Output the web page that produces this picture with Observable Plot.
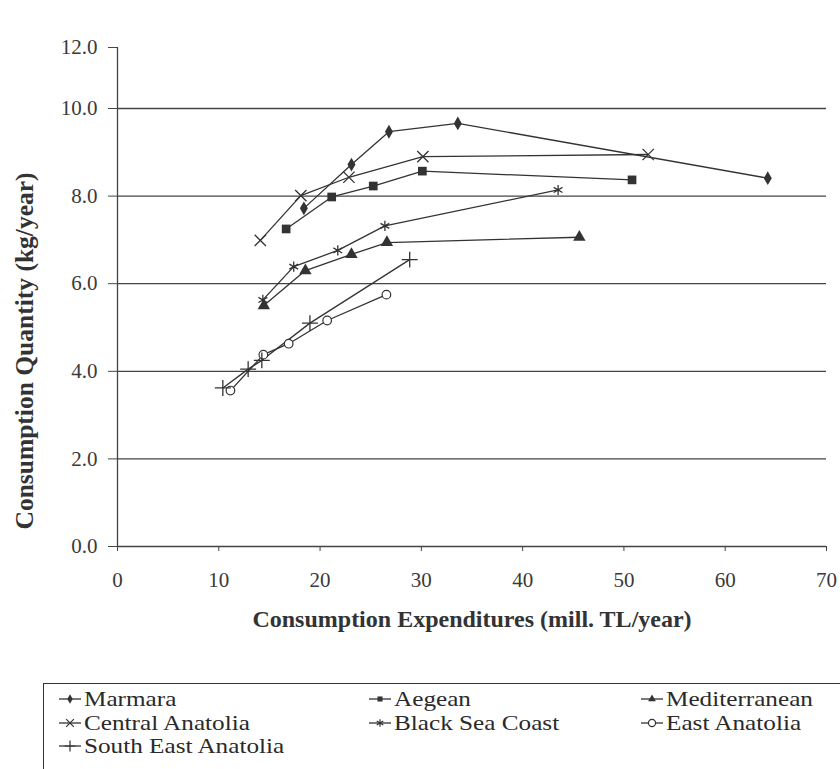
<!DOCTYPE html>
<html>
<head>
<meta charset="utf-8">
<script src="https://cdn.jsdelivr.net/npm/d3@7"></script>
<script src="https://cdn.jsdelivr.net/npm/@observablehq/plot@0.6"></script>
<style>
  html, body { margin: 0; padding: 0; background: #fff; overflow: hidden; }
  body { width: 840px; height: 769px; position: relative; font-family: "Liberation Serif", "Times New Roman", serif; }
  #chart { position: absolute; left: 0; top: 0; }
  #legend { position: absolute; left: 43px; top: 683px; width: 900px; height: 120px; border: 1.5px solid #333; box-sizing: border-box; }
  .item { position: absolute; display: flex; align-items: center; height: 22px; font-size: 21px; line-height: 22px; color: #2a2a2a; white-space: nowrap; }
  .item svg { margin-right: 2px; flex: none; }
  .item span { display: inline-block; transform: scaleX(1.2); transform-origin: left center; }
</style>
</head>
<body>
<div id="chart"></div>
<div id="legend"></div>
<script>
// ---- data ----
const regions = ["Marmara", "Aegean", "Mediterranean", "Central Anatolia", "Black Sea Coast", "East Anatolia", "South East Anatolia"];
const symbols = ["diamond", "square", "triangle", "times", "asterisk", "circle", "plus"];

const marmaraX = [18.4, 23.1, 26.8, 33.6, 64.2];
const marmaraY = [7.72, 8.72, 9.47, 9.66, 8.41];
const aegeanX = [16.65, 21.15, 25.25, 30.1, 50.8];
const aegeanY = [7.25, 7.98, 8.23, 8.57, 8.37];
const mediterraneanX = [14.45, 18.55, 23.1, 26.6, 45.6];
const mediterraneanY = [5.5, 6.3, 6.67, 6.94, 7.06];
const centralX = [14.1, 18.1, 22.85, 30.15, 52.4];
const centralY = [6.99, 8.01, 8.43, 8.9, 8.95];
const blackSeaX = [14.35, 17.4, 21.75, 26.4, 43.5];
const blackSeaY = [5.63, 6.39, 6.76, 7.32, 8.14];
const eastX = [11.15, 14.4, 16.9, 20.7, 26.55];
const eastY = [3.56, 4.38, 4.63, 5.16, 5.75];
const southEastX = [10.4, 12.9, 14.25, 19.0, 28.85];
const southEastY = [3.62, 4.05, 4.25, 5.1, 6.55];

const xTicks = [0, 10, 20, 30, 40, 50, 60, 70];
const yTicks = [0, 2, 4, 6, 8, 10, 12];
const gridTicks = [2, 4, 6, 8, 10];

const seriesX = [marmaraX, aegeanX, mediterraneanX, centralX, blackSeaX, eastX, southEastX];
const seriesY = [marmaraY, aegeanY, mediterraneanY, centralY, blackSeaY, eastY, southEastY];

const data = regions.flatMap((r, i) => seriesX[i].map((x, j) => ({region: r, x, y: seriesY[i][j]})));

const filledSet = new Set(["Marmara", "Aegean", "Mediterranean"]);
const ink = "#333";
const font = "'Liberation Serif', 'Times New Roman', serif";
const markerR = {"Marmara": 4.2, "Aegean": 4.9, "Mediterranean": 4.6, "Central Anatolia": 5.2, "Black Sea Coast": 4.8, "East Anatolia": 4.3, "South East Anatolia": 5.2};

const dotMarks = regions.map(r => {
  const sub = data.filter(d => d.region === r);
  if (filledSet.has(r)) return Plot.dot(sub, {x: "x", y: "y", symbol: "region", fill: ink, stroke: "none", r: markerR[r]});
  if (r === "East Anatolia") return Plot.dot(sub, {x: "x", y: "y", symbol: "region", fill: "white", stroke: ink, strokeWidth: 1.2, r: markerR[r]});
  return Plot.dot(sub, {x: "x", y: "y", symbol: "region", fill: "none", stroke: ink, strokeWidth: 1.3, r: markerR[r]});
});

const chart = Plot.plot({
  width: 840,
  height: 650,
  marginLeft: 117,
  marginRight: 14,
  marginTop: 47,
  marginBottom: 104,
  style: {fontFamily: font, fontSize: "21px", color: "#3a3a3a", background: "transparent"},
  x: {type: "linear", domain: [0, 70], range: [117, 826]},
  y: {type: "linear", domain: [0, 10, 12], range: [546, 108, 47]},
  symbol: {domain: regions, range: symbols},
  marks: [
    Plot.gridY(gridTicks, {stroke: "#444", strokeOpacity: 1, strokeWidth: 1.3, x1: 0, x2: 70}),
    Plot.ruleX([0], {y1: 0, y2: 12, stroke: "#444", strokeWidth: 1.3}),
    Plot.ruleY([0], {x1: 0, x2: 70, stroke: "#444", strokeWidth: 1.3}),
    Plot.axisY({ticks: yTicks, tickFormat: d3.format(".1f"), tickSize: 9, tickPadding: 11, stroke: "#444",
      fontSize: 21, label: "Consumption Quantity (kg/year)", labelAnchor: "center", labelArrow: "none", labelOffset: 103}),
    Plot.axisX({ticks: xTicks, tickSize: 5, tickPadding: 21, stroke: "#444",
      fontSize: 21, label: "Consumption Expenditures (mill. TL/year)", labelAnchor: "center", labelArrow: "none", labelOffset: 80}),
    Plot.line(data, {x: "x", y: "y", z: "region", stroke: ink, strokeWidth: 1.3}),
    ...dotMarks
  ]
});
document.getElementById("chart").appendChild(chart);

// style the axis labels bold
chart.querySelectorAll("[aria-label='y-axis label'] text").forEach(t => {
  t.setAttribute("font-weight", "bold");
  t.setAttribute("font-size", "25.5");
  t.setAttribute("fill", "#333");
  t.setAttribute("dx", "-54");
});
chart.querySelectorAll("[aria-label='x-axis label'] text").forEach(t => {
  t.setAttribute("font-weight", "bold");
  t.setAttribute("font-size", "24");
  t.setAttribute("fill", "#333");
});

// ---- legend ----
const legend = document.getElementById("legend");
const colX = [13.5, 323.5, 595.5];
const rowY = [3.5, 27.5, 51];
const d3Sym = {diamond: d3.symbolDiamond, square: d3.symbolSquare, triangle: d3.symbolTriangle, times: d3.symbolTimes, asterisk: d3.symbolAsterisk, circle: d3.symbolCircle, plus: d3.symbolPlus};
regions.forEach((r, i) => {
  const col = i % 3, row = Math.floor(i / 3);
  const div = document.createElement("div");
  div.className = "item";
  div.style.left = colX[col] + "px";
  div.style.top = rowY[row] + "px";
  const sym = symbols[i];
  const filled = filledSet.has(r);
  const size = filled ? 26 : 40;
  const path = d3.symbol(d3Sym[sym], size)();
  const fill = filled ? ink : (sym === "circle" ? "white" : "none");
  const stroke = filled ? "none" : ink;
  div.innerHTML = `<svg width="24" height="20"><line x1="1" x2="23" y1="10" y2="10" stroke="${ink}" stroke-width="1.3"/><path transform="translate(12,10)" d="${path}" fill="${fill}" stroke="${stroke}" stroke-width="1.2"/></svg><span>${r}</span>`;
  legend.appendChild(div);
});
</script>
</body>
</html>
